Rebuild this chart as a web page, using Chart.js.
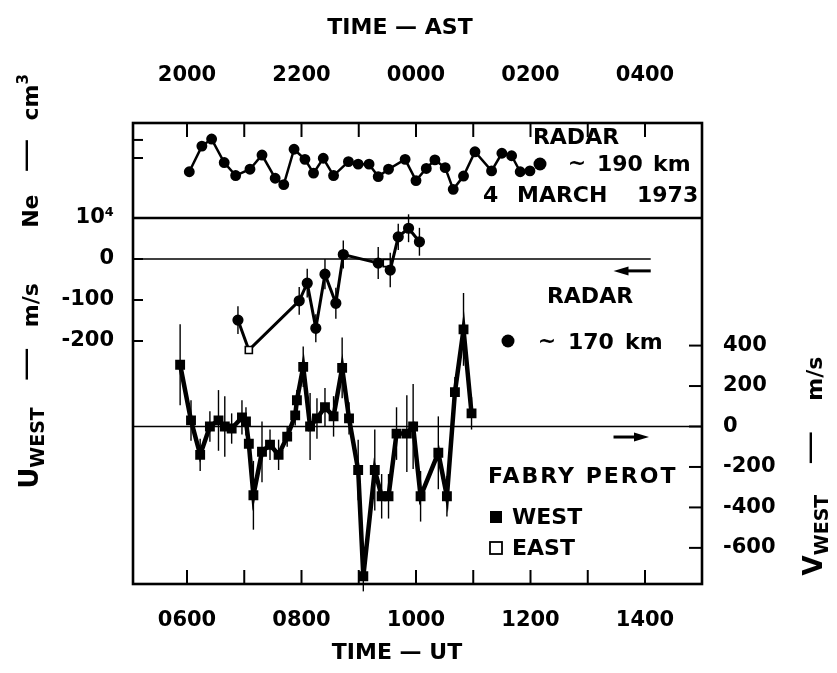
<!DOCTYPE html>
<html>
<head>
<meta charset="utf-8">
<script src="https://cdn.jsdelivr.net/npm/chart.js@4.4.1/dist/chart.umd.min.js"></script>
<style>
  html, body { margin: 0; padding: 0; background: #fff; }
  canvas { display: block; }
</style>
</head>
<body>
<canvas id="grafica" width="837" height="673"></canvas>
<script>
// Datos (tiempo en horas UT)
var neTime = [6.04, 6.26, 6.43, 6.65, 6.85, 7.10, 7.31, 7.54, 7.69, 7.87, 8.06, 8.21, 8.38, 8.56, 8.82, 8.99,
              9.18, 9.34, 9.52, 9.81, 10.00, 10.18, 10.33, 10.51, 10.65, 10.83, 11.03, 11.32, 11.50, 11.67, 11.82, 11.99];
var neValue = [59000, 158000, 207000, 84000, 51000, 65000, 112000, 46000, 36000, 140000, 95000, 56000, 99000, 51000, 87000, 79000,
               79000, 49000, 65000, 95000, 42000, 67000, 93000, 69000, 30000, 50000, 127000, 61000, 120000, 109000, 59000, 61000];

// U oeste, radar ~170 km (R) y Fabry-Perot este (E)
var uTime = [6.89, 7.08, 7.96, 8.10, 8.25, 8.41, 8.60, 8.73, 9.34, 9.49, 9.55, 9.69, 9.87, 10.06];
var uWind = [-149, -222, -102, -59, -169, -37, -108, 11, -10, -10, -27, 54, 75, 42];
var uErr = [34, 0, 34, 35, 34, 37, 38, 34, 39, 0, 42, 32, 34, 34];
var uKind = ['R', 'E', 'R', 'R', 'R', 'R', 'R', 'R', 'R', 'E', 'R', 'R', 'R', 'R'];

// V oeste, Fabry-Perot oeste
var vTime = [5.88, 6.07, 6.23, 6.40, 6.55, 6.66, 6.78, 6.96, 7.03, 7.08, 7.16, 7.31, 7.45, 7.60, 7.75, 7.89, 7.92, 8.03, 8.15,
             8.27, 8.41, 8.56, 8.71, 8.83, 8.99, 9.08, 9.28, 9.40, 9.52, 9.66, 9.84, 9.95, 10.08, 10.39, 10.54, 10.68, 10.83, 10.97];
var vWind = [305, 30, -140, 0, 30, 0, -10, 45, 25, -85, -340, -125, -90, -140, -50, 55, 130, 295, 0,
             40, 95, 50, 290, 40, -215, -740, -215, -345, -345, -35, -35, 0, -345, -130, -345, 170, 480, 65];
var vErr = [200, 100, 80, 75, 150, 150, 75, 85, 70, 40, 170, 150, 75, 75, 50, 50, 50, 100, 165,
            100, 95, 100, 150, 80, 150, 75, 200, 110, 110, 130, 190, 210, 125, 180, 100, 75, 180, 80];

// Etiquetas de los ejes
var hourTicks = [6, 7, 8, 9, 10, 11, 12, 13, 14];
var labelHours = [6, 8, 10, 12, 14];
var utLabels = ['0600', '0800', '1000', '1200', '1400'];
var astLabels = ['2000', '2200', '0000', '0200', '0400'];
var uTicks = [0, -100, -200];
var vTicks = [400, 200, 0, -200, -400, -600];
var neTicks = [100000, 200000];
var neBase = 10000;

window.onload = function () {

    var W = 837, H = 673;
    var AREA = { left: 133, top: 123, right: 702, bottom: 584 };
    var X6 = 187, PX_HOUR = 57.25;           // 0600 UT y pixeles por hora
    var U0 = 259, PX_U = 0.41;               // cero de U
    var V0 = 426.5, PX_V = 0.2023;           // cero de V
    var NE_PX = 218, PX_DEC = 60;            // 10^4 y pixeles por decada

    var xMin = 6 - (X6 - AREA.left) / PX_HOUR;
    var xMax = 6 + (AREA.right - X6) / PX_HOUR;
    var uMax = (U0 - AREA.top) / PX_U, uMin = -(AREA.bottom - U0) / PX_U;
    var vMax = (V0 - AREA.top) / PX_V, vMin = -(AREA.bottom - V0) / PX_V;
    var neMax = Math.pow(10, 4 + (NE_PX - AREA.top) / PX_DEC);
    var neMin = Math.pow(10, 4 - (AREA.bottom - NE_PX) / PX_DEC);
    var uDivider = (U0 - NE_PX) / PX_U;      // donde cae 10^4 en la escala de U

    var FONT = '"DejaVu Sans", sans-serif';
    var tickFont = { family: FONT, weight: 'bold', size: 21 };

    function pts(xs, ys) {
        return xs.map(function (x, i) { return { x: x, y: ys[i] }; });
    }

    function seg(c, x1, y1, x2, y2) {
        c.beginPath(); c.moveTo(x1, y1); c.lineTo(x2, y2); c.stroke();
    }

    function arrow(c, x1, x2, y) {
        var d = x2 > x1 ? 1 : -1;
        c.lineWidth = 3;
        seg(c, x1, y, x2 - d * 10, y);
        c.beginPath();
        c.moveTo(x2, y); c.lineTo(x2 - d * 15, y - 4.5); c.lineTo(x2 - d * 15, y + 4.5);
        c.closePath(); c.fill();
    }

    // texto rotado por partes: [texto, tamano, desplazamiento, espacio despues, peso]
    function rich(c, parts, x, y, rot) {
        c.save();
        c.translate(x, y);
        c.rotate(rot);
        c.textAlign = 'left';
        c.textBaseline = 'alphabetic';
        var total = 0;
        function fnt(p) { c.font = (p[4] || 'bold') + ' ' + p[1] + 'px ' + FONT; }
        parts.forEach(function (p) {
            fnt(p);
            total += c.measureText(p[0]).width + (p[3] || 0);
        });
        var cx = -total / 2;
        parts.forEach(function (p) {
            fnt(p);
            c.fillText(p[0], cx, p[2]);
            cx += c.measureText(p[0]).width + (p[3] || 0);
        });
        c.restore();
    }

    function word(c, txt, x, y, size, align) {
        c.font = 'bold ' + size + 'px ' + FONT;
        c.textAlign = align || 'left';
        c.textBaseline = 'middle';
        c.fillText(txt, x, y);
    }

    var adornos = {
        id: 'adornos',
        beforeDatasetsDraw: function (chart) {
            var c = chart.ctx, a = chart.chartArea, s = chart.scales;
            c.save();
            c.strokeStyle = '#000';
            c.fillStyle = '#000';
            // lineas de cero
            c.lineWidth = 1.6;
            seg(c, a.left, s.yU.getPixelForValue(0), s.x.getPixelForValue(14.1), s.yU.getPixelForValue(0));
            seg(c, a.left, s.yV.getPixelForValue(0), a.right, s.yV.getPixelForValue(0));
            // barras de error
            c.lineWidth = 1.4;
            vTime.forEach(function (t, i) {
                var x = s.x.getPixelForValue(t);
                seg(c, x, s.yV.getPixelForValue(vWind[i] - vErr[i]), x, s.yV.getPixelForValue(vWind[i] + vErr[i]));
            });
            uTime.forEach(function (t, i) {
                if (!uErr[i]) return;
                var x = s.x.getPixelForValue(t);
                seg(c, x, s.yU.getPixelForValue(uWind[i] - uErr[i]), x, s.yU.getPixelForValue(uWind[i] + uErr[i]));
            });
            c.restore();
        },
        afterDraw: function (chart) {
            var c = chart.ctx, a = chart.chartArea, s = chart.scales;
            c.save();
            c.strokeStyle = '#000';
            c.fillStyle = '#000';

            // marco y division del panel de Ne
            c.lineWidth = 2.6;
            c.strokeRect(a.left, a.top, a.right - a.left, a.bottom - a.top);
            var yDiv = s.yNe.getPixelForValue(neBase);
            seg(c, a.left, yDiv, a.right, yDiv);

            // marcas hacia adentro
            c.lineWidth = 2;
            hourTicks.forEach(function (h) {
                var x = s.x.getPixelForValue(h);
                seg(c, x, a.bottom, x, a.bottom - 14);
                seg(c, x, a.top, x, a.top + 14);
            });
            uTicks.forEach(function (v) {
                var y = s.yU.getPixelForValue(v);
                seg(c, a.left, y, a.left + 10, y);
            });
            neTicks.forEach(function (v) {
                var y = s.yNe.getPixelForValue(v);
                seg(c, a.left, y, a.left + 10, y);
            });
            vTicks.forEach(function (v) {
                var y = s.yV.getPixelForValue(v);
                seg(c, a.right, y, a.right - 13, y);
            });

            // flechas
            arrow(c, s.x.getPixelForValue(14.1), s.x.getPixelForValue(13.45), s.yU.getPixelForValue(-29));
            arrow(c, s.x.getPixelForValue(13.45), s.x.getPixelForValue(14.07), s.yV.getPixelForValue(-52));

            // textos del panel superior
            word(c, 'RADAR', 576, 138, 22, 'center');
            c.beginPath(); c.arc(540, 164, 6.5, 0, 2 * Math.PI); c.fill();
            word(c, '~', 577, 164, 22, 'center');
            word(c, '190', 597, 165, 22);
            word(c, 'km', 653, 165, 22);
            word(c, '4', 483, 196, 22);
            word(c, 'MARCH', 517, 196, 22);
            word(c, '1973', 637, 196, 22);

            // radar 170 km
            word(c, 'RADAR', 590, 297, 22, 'center');
            c.beginPath(); c.arc(508, 341, 6.5, 0, 2 * Math.PI); c.fill();
            word(c, '~', 547, 342, 22, 'center');
            word(c, '170', 568, 343, 22);
            word(c, 'km', 625, 343, 22);

            // Fabry Perot
            c.letterSpacing = '2px';
            word(c, 'FABRY PEROT', 488, 477, 22);
            c.letterSpacing = '0px';
            c.fillRect(490, 511, 12, 12);
            word(c, 'WEST', 512, 518, 22);
            c.fillStyle = '#fff';
            c.fillRect(490, 542, 12, 12);
            c.fillStyle = '#000';
            c.lineWidth = 1.8;
            c.strokeRect(490, 542, 12, 12);
            word(c, 'EAST', 512, 549, 22);

            // titulos de ejes
            word(c, 'TIME \u2014 AST', 400, 28, 22, 'center');
            word(c, 'TIME \u2014 UT', 397, 653, 22, 'center');
            rich(c, [['Ne', 22, 0, 22], ['\u2014', 34, -2, 18, 'normal'], ['cm', 22, 0], ['3', 15, -10]], 38, 151, -Math.PI / 2);
            rich(c, [['U', 26, 0], ['WEST', 19, 6, 26], ['\u2014', 34, -2, 20, 'normal'], ['m/s', 22, 0]], 38, 386, -Math.PI / 2);
            rich(c, [['V', 26, 0], ['WEST', 19, 6, 30], ['\u2014', 34, -2, 30, 'normal'], ['m/s', 22, 0]], 822, 466, -Math.PI / 2);
            c.restore();
        }
    };

    var config = {
        type: 'scatter',
        data: {
            datasets: [{
                label: 'Ne radar 190 km',
                data: pts(neTime, neValue),
                yAxisID: 'yNe',
                showLine: true,
                borderColor: '#000',
                borderWidth: 2.5,
                pointRadius: 4.2,
                pointBackgroundColor: '#000',
                pointBorderColor: '#000'
            }, {
                label: 'U west',
                data: pts(uTime, uWind),
                yAxisID: 'yU',
                showLine: true,
                borderColor: '#000',
                borderWidth: 3,
                pointStyle: uKind.map(function (k) { return k === 'E' ? 'rect' : 'circle'; }),
                pointRadius: uKind.map(function (k) { return k === 'E' ? 5 : 4.8; }),
                pointBackgroundColor: uKind.map(function (k) { return k === 'E' ? '#fff' : '#000'; }),
                pointBorderColor: '#000',
                pointBorderWidth: 1.6
            }, {
                label: 'V west',
                data: pts(vTime, vWind),
                yAxisID: 'yV',
                showLine: true,
                borderColor: '#000',
                borderWidth: 4.5,
                pointStyle: 'rect',
                pointRadius: 3.8,
                pointBackgroundColor: '#000',
                pointBorderColor: '#000'
            }]
        },
        options: {
            responsive: false,
            animation: false,
            devicePixelRatio: 1,
            events: [],
            layout: { padding: 0 },
            plugins: { legend: { display: false }, tooltip: { enabled: false } },
            elements: { line: { tension: 0 } },
            scales: {
                x: {
                    type: 'linear', position: 'bottom', min: xMin, max: xMax,
                    grid: { display: false, drawTicks: false }, border: { display: false },
                    afterBuildTicks: function (sc) { sc.ticks = hourTicks.map(function (h) { return { value: h }; }); },
                    ticks: {
                        autoSkip: false, maxRotation: 0, padding: 24, color: '#000', font: tickFont,
                        callback: function (v) { var i = labelHours.indexOf(v); return i >= 0 ? utLabels[i] : ''; }
                    },
                    afterFit: function (sc) { sc.height = H - AREA.bottom; }
                },
                xAst: {
                    type: 'linear', position: 'top', min: xMin, max: xMax,
                    grid: { display: false, drawTicks: false }, border: { display: false },
                    afterBuildTicks: function (sc) { sc.ticks = hourTicks.map(function (h) { return { value: h }; }); },
                    ticks: {
                        autoSkip: false, maxRotation: 0, padding: 35, color: '#000', font: tickFont,
                        callback: function (v) { var i = labelHours.indexOf(v); return i >= 0 ? astLabels[i] : ''; }
                    },
                    afterFit: function (sc) { sc.height = AREA.top; }
                },
                yU: {
                    position: 'left', min: uMin, max: uMax,
                    grid: { display: false, drawTicks: false }, border: { display: false },
                    afterBuildTicks: function (sc) {
                        sc.ticks = [uDivider].concat(uTicks).map(function (v) { return { value: v }; });
                    },
                    ticks: {
                        padding: 19, color: '#000', font: tickFont,
                        callback: function (v) { return v === uDivider ? '10\u2074' : String(v); }
                    },
                    afterFit: function (sc) { sc.width = AREA.left; }
                },
                yV: {
                    position: 'right', min: vMin, max: vMax,
                    grid: { display: false, drawTicks: false }, border: { display: false },
                    afterBuildTicks: function (sc) { sc.ticks = vTicks.map(function (v) { return { value: v }; }); },
                    ticks: { padding: 21, color: '#000', font: tickFont },
                    afterFit: function (sc) { sc.width = W - AREA.right; }
                },
                yNe: {
                    type: 'logarithmic', display: false, min: neMin, max: neMax
                }
            }
        },
        plugins: [adornos]
    };

    window.grafica = new Chart(document.getElementById('grafica'), config);
};
</script>
</body>
</html>
